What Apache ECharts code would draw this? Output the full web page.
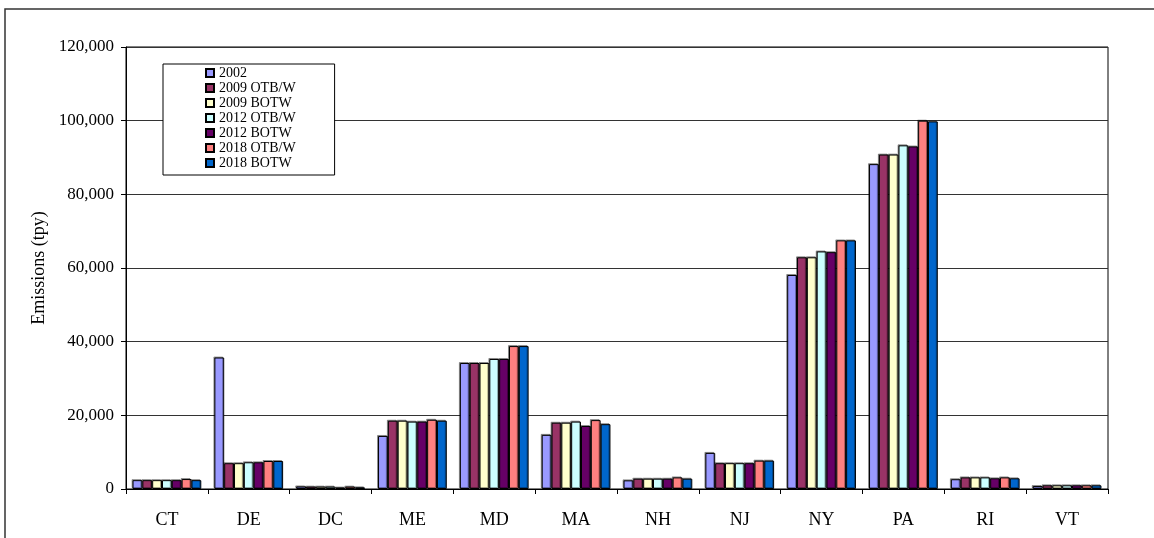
<!DOCTYPE html>
<html>
<head>
<meta charset="utf-8">
<title>Emissions by State</title>
<script src="https://cdn.jsdelivr.net/npm/echarts@6/dist/echarts.min.js"></script>
<style>
  html, body { margin: 0; padding: 0; background: #fff; }
  #chart { width: 1154px; height: 538px; }
</style>
</head>
<body>
<div id="chart"></div>
<script>
// States along the horizontal axis
const states = ['CT', 'DE', 'DC', 'ME', 'MD', 'MA', 'NH', 'NJ', 'NY', 'PA', 'RI', 'VT'];

// Emissions (tpy) per scenario, one value per state
const e2002    = [2400, 35700, 700, 14400, 34200, 14700, 2350, 9800, 58100, 88200, 2650, 800];
const e2009OTB = [2400, 7000, 650, 18550, 34200, 18000, 2800, 7000, 62900, 90800, 3150, 1000];
const e2009BOT = [2400, 7000, 650, 18550, 34200, 18000, 2800, 7000, 62900, 90800, 3150, 1000];
const e2012OTB = [2400, 7250, 650, 18300, 35300, 18300, 2800, 7000, 64500, 93300, 3150, 1000];
const e2012BOT = [2400, 7250, 400, 18300, 35300, 17100, 2800, 7000, 64300, 93000, 2900, 1000];
const e2018OTB = [2700, 7600, 650, 18800, 38800, 18700, 3150, 7700, 67500, 100000, 3150, 1000];
const e2018BOT = [2400, 7600, 450, 18550, 38800, 17600, 2800, 7700, 67500, 99800, 2900, 1000];

const seriesNames = ['2002', '2009 OTB/W', '2009 BOTW', '2012 OTB/W', '2012 BOTW', '2018 OTB/W', '2018 BOTW'];
const seriesData = [e2002, e2009OTB, e2009BOT, e2012OTB, e2012BOT, e2018OTB, e2018BOT];
const seriesColors = ['#9999FF', '#993366', '#FFFFCC', '#CCFFFF', '#660066', '#FF8080', '#0066CC'];

// Value axis ticks
const yMin = 0, yMax = 120000, yStep = 20000;

const serif = '"Liberation Serif", "Times New Roman", serif';

const chart = echarts.init(document.getElementById('chart'), null, { renderer: 'canvas' });

chart.setOption({
  animation: false,
  backgroundColor: '#fff',
  textStyle: { fontFamily: serif, color: '#000' },
  graphic: [{
    type: 'rect',
    shape: { x: 5, y: 9, width: 1300, height: 700 },
    style: { fill: 'none', stroke: '#333', lineWidth: 1.5 },
    silent: true,
    z: -1
  }],
  grid: {
    left: 126, right: 46, top: 47, bottom: 49,
    show: true, borderColor: '#000', borderWidth: 1, backgroundColor: 'transparent'
  },
  legend: {
    orient: 'vertical',
    left: 163, top: 64,
    padding: [2, 39, 5, 42],
    itemWidth: 8, itemHeight: 8, itemGap: 1, itemTextGap: 4,
    backgroundColor: '#fff',
    borderColor: '#000', borderWidth: 1,
    borderRadius: 0,
    icon: 'rect',
    textStyle: { fontFamily: serif, fontSize: 14, lineHeight: 14, color: '#000' },
    data: seriesNames
  },
  xAxis: {
    type: 'category',
    data: states,
    axisLine: { lineStyle: { color: '#000', width: 1 } },
    axisTick: { show: true, length: 5, lineStyle: { color: '#000' } },
    axisLabel: { fontFamily: serif, fontSize: 18, color: '#000', margin: 22 },
    splitLine: { show: false }
  },
  yAxis: {
    type: 'value',
    min: yMin, max: yMax, interval: yStep,
    name: 'Emissions (tpy)',
    nameLocation: 'middle',
    nameGap: 78,
    nameRotate: 90,
    nameTextStyle: { fontFamily: serif, fontSize: 18, color: '#000' },
    axisLine: { show: true, lineStyle: { color: '#000', width: 1 } },
    axisTick: { show: true, length: 5, lineStyle: { color: '#000' } },
    axisLabel: {
      fontFamily: serif, fontSize: 17, color: '#000', margin: 12,
      formatter: v => v.toLocaleString('en-US')
    },
    splitLine: { show: true, lineStyle: { color: '#333', width: 1 } }
  },
  series: seriesNames.map((name, i) => ({
    name,
    type: 'bar',
    data: seriesData[i],
    barGap: '0%',
    barCategoryGap: '16%',
    itemStyle: {
      color: seriesColors[i],
      borderColor: '#000',
      borderWidth: 1,
      shadowColor: 'rgba(0,0,0,0.35)',
      shadowOffsetX: -1,
      shadowOffsetY: -1,
      shadowBlur: 0
    }
  }))
});
</script>
</body>
</html>
